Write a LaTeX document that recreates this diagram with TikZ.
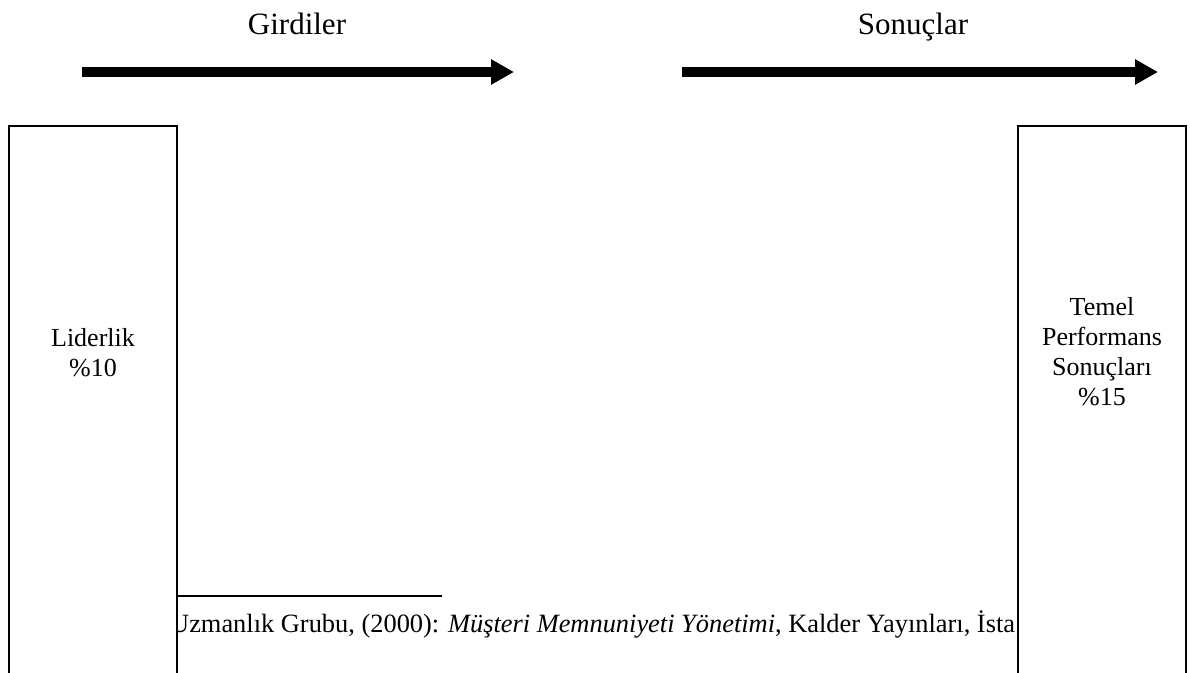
\documentclass[tikz,border=0pt]{standalone}
\usepackage{fontspec}
\setmainfont{Liberation Serif}
\usetikzlibrary{arrows.meta}
\begin{document}
\begin{tikzpicture}[x=1pt,y=-1pt,
  heading/.style={font=\fontsize{31}{35}\selectfont, anchor=base, inner sep=0pt},
  boxtext/.style={font=\fontsize{26}{30}\selectfont, anchor=base, inner sep=0pt},
  notetext/.style={font=\fontsize{26.4}{31}\selectfont, anchor=base west, inner sep=0pt},
  flow/.style={line width=10pt, -{Triangle[length=23pt,width=24pt]}},
  column/.style={draw, fill=white, line width=1.5pt, minimum width=168pt, minimum height=620pt, anchor=north, inner sep=0pt}
]
\useasboundingbox (0,0) rectangle (1190,672);
\clip (0,0) rectangle (1190,672);

% headings
\node[heading] (girdi) at (297,34) {Girdiler};
\node[heading] (sonuc) at (913,34) {Sonuçlar};

% flow arrows
\coordinate (a1s) at (82,72);
\coordinate (a1e) at (514,72);
\coordinate (a2s) at (682,72);
\coordinate (a2e) at (1158,72);
\draw[flow] (a1s) -- (a1e);
\draw[flow] (a2s) -- (a2e);

% footnote rule and reference line
\coordinate (fr1) at (177,596);
\coordinate (fr2) at (442,596);
\draw[line width=1.3pt] (fr1) -- (fr2);
\node[notetext] (note) at (170,632) {Uzmanlık Grubu, (2000): \textit{Müşteri Memnuniyeti Yönetimi}, Kalder Yayınları, İsta};

% columns
\node[column] (left) at (93,125) {};
\node[column] (right) at (1102,125) {};

% column labels
\node[boxtext] (lid1) at (93,346) {Liderlik};
\node[boxtext] (lid2) at (93,376) {\%10};
\node[boxtext] (tp1) at (1102,315) {Temel};
\node[boxtext] (tp2) at (1102,345) {Performans};
\node[boxtext] (tp3) at (1102,375) {Sonuçları};
\node[boxtext] (tp4) at (1102,405) {\%15};
\end{tikzpicture}
\end{document}
